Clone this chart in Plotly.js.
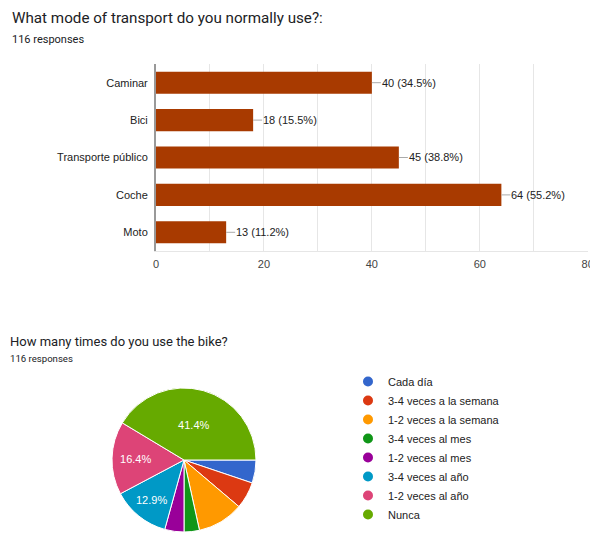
<!DOCTYPE html>
<html>
<head>
<meta charset="utf-8">
<script src="https://cdn.plot.ly/plotly-3.0.1.min.js"></script>
<style>
html,body{margin:0;padding:0;background:#fff;}
#chart{width:590px;height:534px;}
</style>
</head>
<body>
<div id="chart"></div>
<script>
// ---- Data ----
const modeCategories = ["Caminar", "Bici", "Transporte público", "Coche", "Moto"];
const modeCounts = [40, 18, 45, 64, 13];
const modeLabels = ["40 (34.5%)", "18 (15.5%)", "45 (38.8%)", "64 (55.2%)", "13 (11.2%)"];
const xTickValues = [0, 20, 40, 60, 80];

const bikeCategories = ["Cada día", "3-4 veces a la semana", "1-2 veces a la semana", "3-4 veces al mes",
  "1-2 veces al mes", "3-4 veces al año", "1-2 veces al año", "Nunca"];
const bikeCounts = [6, 7, 12, 4, 5, 15, 19, 48];
const bikeColors = ["#3366cc", "#dc3912", "#ff9900", "#109618", "#990099", "#0099c6", "#dd4477", "#66aa00"];

const titleTop = "What mode of transport do you normally use?:";
const titleBottom = "How many times do you use the bike?";
const responsesText = "116 responses";

// ---- Build ----
const TFONT = "Roboto, Arial, sans-serif";
const FONT = "Arial, 'Liberation Sans', sans-serif";
const total = bikeCounts.reduce((a, b) => a + b, 0);
const pieTexts = bikeCounts.map(v => (v / total > 0.12 ? (100 * v / total).toFixed(1) + "%" : ""));

const traces = [];
traces.push({
  type: "bar",
  orientation: "h",
  x: modeCounts,
  y: modeCategories,
  marker: {color: "#a83a00", line: {width: 0}},
  showlegend: false,
  hoverinfo: "x+y",
  xaxis: "x", yaxis: "y"
});
traces.push({
  type: "pie",
  values: bikeCounts,
  labels: bikeCategories,
  marker: {colors: bikeColors, line: {color: "#ffffff", width: 1}},
  sort: false,
  direction: "clockwise",
  rotation: 90,
  text: pieTexts,
  textinfo: "text",
  textposition: "inside",
  insidetextorientation: "horizontal",
  insidetextfont: {color: "#ffffff", size: 11, family: FONT},
  showlegend: false,
  domain: {x: [112 / 590, 256 / 590], y: [2 / 534, 146 / 534]}
});
bikeCategories.forEach((c, i) => {
  traces.push({
    type: "scatter", mode: "markers", x: [null], y: [null], name: c,
    marker: {color: bikeColors[i], size: 10, symbol: "circle"},
    xaxis: "x2", yaxis: "y2", showlegend: true, hoverinfo: "skip"
  });
});

const annotations = [
  {text: titleTop, x: 10 / 590, y: 1 - 18 / 534, xref: "paper", yref: "paper", xanchor: "left", yanchor: "middle",
   showarrow: false, font: {family: TFONT, size: 15.2, color: "#202124"}},
  {text: responsesText, x: 10 / 590, y: 1 - 40 / 534, xref: "paper", yref: "paper", xanchor: "left", yanchor: "middle",
   showarrow: false, font: {family: TFONT, size: 11, color: "#202124"}},
  {text: titleBottom, x: 8 / 590, y: 1 - 341 / 534, xref: "paper", yref: "paper", xanchor: "left", yanchor: "middle",
   showarrow: false, font: {family: TFONT, size: 13, color: "#202124"}},
  {text: responsesText, x: 8 / 590, y: 1 - 358 / 534, xref: "paper", yref: "paper", xanchor: "left", yanchor: "middle",
   showarrow: false, font: {family: TFONT, size: 9.6, color: "#202124"}}
];
modeCategories.forEach((c, i) => {
  annotations.push({
    x: modeCounts[i], y: c, xref: "x", yref: "y", text: modeLabels[i],
    showarrow: true, ax: 9, ay: 0, arrowhead: 0, arrowwidth: 1, arrowcolor: "#aaaaaa",
    xanchor: "left", yanchor: "middle", standoff: 0, borderpad: 0,
    font: {family: FONT, size: 11, color: "#222222"}
  });
});

const layout = {
  width: 590, height: 534,
  margin: {l: 0, r: 0, t: 0, b: 0},
  paper_bgcolor: "#ffffff", plot_bgcolor: "#ffffff",
  font: {family: FONT, size: 11, color: "#222222"},
  bargap: 0.41,
  xaxis: {
    domain: [156 / 590, 588 / 590], range: [0, 80.05], tickvals: xTickValues,
    showgrid: true, gridcolor: "#e6e6e6", gridwidth: 1,
    minor: {dtick: 10, showgrid: true, gridcolor: "#e6e6e6", gridwidth: 1},
    zeroline: false, showline: true, linecolor: "#e6e6e6", linewidth: 1,
    ticks: "", ticklen: 0, ticklabelstandoff: 3, ticklabeloverflow: "allow",
    tickfont: {family: FONT, size: 11, color: "#444444"}, fixedrange: true
  },
  yaxis: {
    domain: [1 - 251 / 534, 1 - 64 / 534], autorange: "reversed", type: "category",
    showgrid: false, zeroline: false, showline: true, linecolor: "#999999", linewidth: 2,
    ticks: "", ticklen: 0, ticklabelstandoff: 4,
    tickfont: {family: FONT, size: 11, color: "#222222"}, fixedrange: true
  },
  xaxis2: {domain: [0.9, 0.95], visible: false, anchor: "y2"},
  yaxis2: {domain: [0.0, 0.05], visible: false, anchor: "x2"},
  legend: {
    x: 348 / 590, y: 1 - 448 / 534, xanchor: "left", yanchor: "middle",
    font: {family: FONT, size: 11, color: "#222222"},
    itemwidth: 30, tracegroupgap: 0, bgcolor: "rgba(0,0,0,0)"
  },
  annotations: annotations,
  showlegend: true
};

Plotly.newPlot("chart", traces, layout, {displayModeBar: false, staticPlot: true});
</script>
</body>
</html>
